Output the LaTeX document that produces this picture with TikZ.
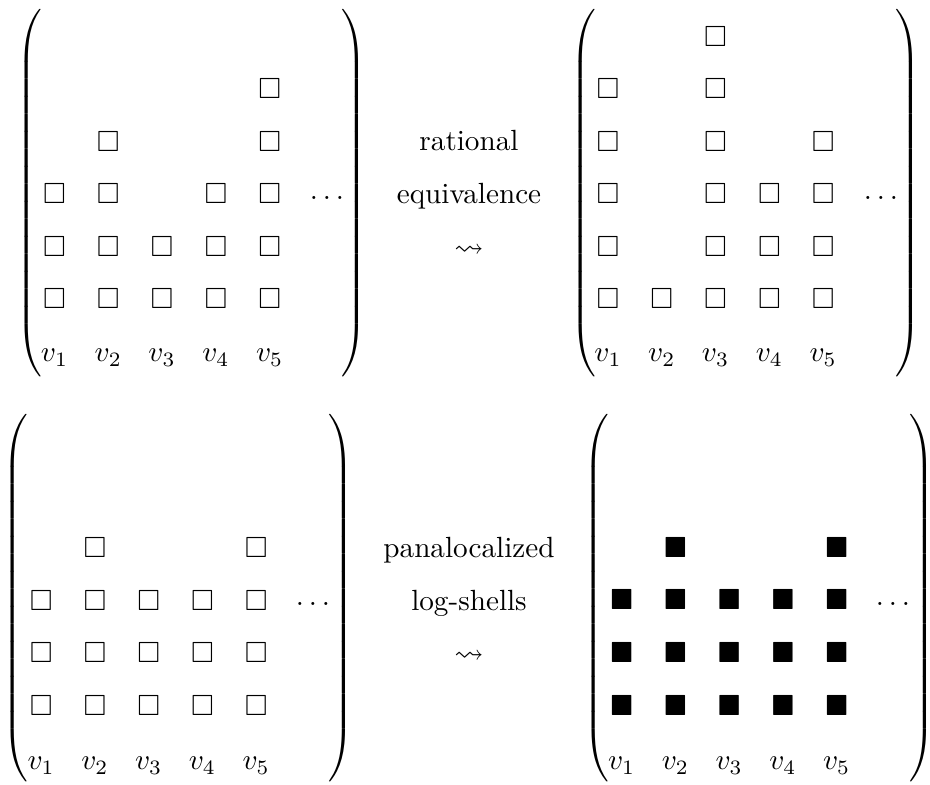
\documentclass[tikz,border=0pt]{standalone}
\usepackage{amssymb}
\newcommand{\myLparen}{$\left(\vrule height 65.5pt depth 60.5pt width 0pt\right.$}
\newcommand{\myRparen}{$\left.\vrule height 65.5pt depth 60.5pt width 0pt\right)$}
\begin{document}
\begin{tikzpicture}[x=0.34247pt,y=-0.34247pt,
  sq/.style={inner sep=0pt, anchor=center},
  lab/.style={inner sep=0pt, anchor=base},
  paren/.style={inner sep=0pt, anchor=center}]
\useasboundingbox (0,0) rectangle (930,785);

% ---------- top left matrix ----------
\node[paren] (tlL) at (31.5,193) {\myLparen};
\node[paren] (tlR) at (352.5,193) {\myRparen};
\foreach \r/\c in {2/5,3/2,3/5,4/1,4/2,4/4,4/5,5/1,5/2,5/3,5/4,5/5,6/1,6/2,6/3,6/4,6/5}
  \node[sq] (tl-\r-\c) at ({54.5+53.8*(\c-1)},{36.2+52.5*(\r-1)}) {$\square$};
\foreach \c in {1,...,5}
  \node[lab] (tlv\c) at ({54.5+53.8*(\c-1)},362) {$v_{\c}$};
\node[lab] (tldots) at (327,200) {$\dots$};

% ---------- top middle text ----------
\node[lab] (t1) at (469,151) {rational};
\node[lab] (t2) at (469,204) {equivalence};
\node[lab] (t3) at (469,257) {$\rightsquigarrow$};

% ---------- top right matrix ----------
\node[paren] (trL) at (585.5,193) {\myLparen};
\node[paren] (trR) at (907,193) {\myRparen};
\foreach \r/\c in {1/3,2/1,2/3,3/1,3/3,3/5,4/1,4/3,4/4,4/5,5/1,5/3,5/4,5/5,6/1,6/2,6/3,6/4,6/5}
  \node[sq] (tr-\r-\c) at ({608+53.8*(\c-1)},{36.2+52.5*(\r-1)}) {$\square$};
\foreach \c in {1,...,5}
  \node[lab] (trv\c) at ({608+53.8*(\c-1)},362) {$v_{\c}$};
\node[lab] (trdots) at (881,200) {$\dots$};

% ---------- bottom left matrix ----------
\node[paren] (blL) at (17.5,598) {\myLparen};
\node[paren] (blR) at (340,598) {\myRparen};
\foreach \r/\c in {1/2,1/5,2/1,2/2,2/3,2/4,2/5,3/1,3/2,3/3,3/4,3/5,4/1,4/2,4/3,4/4,4/5}
  \node[sq] (bl-\r-\c) at ({41.2+53.75*(\c-1)},{547.8+52.55*(\r-1)}) {$\square$};
\foreach \c in {1,...,5}
  \node[lab] (blv\c) at ({41.2+53.75*(\c-1)},770) {$v_{\c}$};
\node[lab] (bldots) at (313,606) {$\dots$};

% ---------- bottom middle text ----------
\node[lab] (b1) at (469,558) {panalocalized};
\node[lab] (b2) at (469,610.5) {log-shells};
\node[lab] (b3) at (469,662.5) {$\rightsquigarrow$};

% ---------- bottom right matrix ----------
\node[paren] (brL) at (598.5,598) {\myLparen};
\node[paren] (brR) at (920.5,598) {\myRparen};
\foreach \r/\c in {1/2,1/5,2/1,2/2,2/3,2/4,2/5,3/1,3/2,3/3,3/4,3/5,4/1,4/2,4/3,4/4,4/5}
  \node[sq] (br-\r-\c) at ({621.7+53.75*(\c-1)},{547.5+52.6*(\r-1)}) {$\blacksquare$};
\foreach \c in {1,...,5}
  \node[lab] (brv\c) at ({621.7+53.75*(\c-1)},770) {$v_{\c}$};
\node[lab] (brdots) at (893,606) {$\dots$};
\end{tikzpicture}
\end{document}
